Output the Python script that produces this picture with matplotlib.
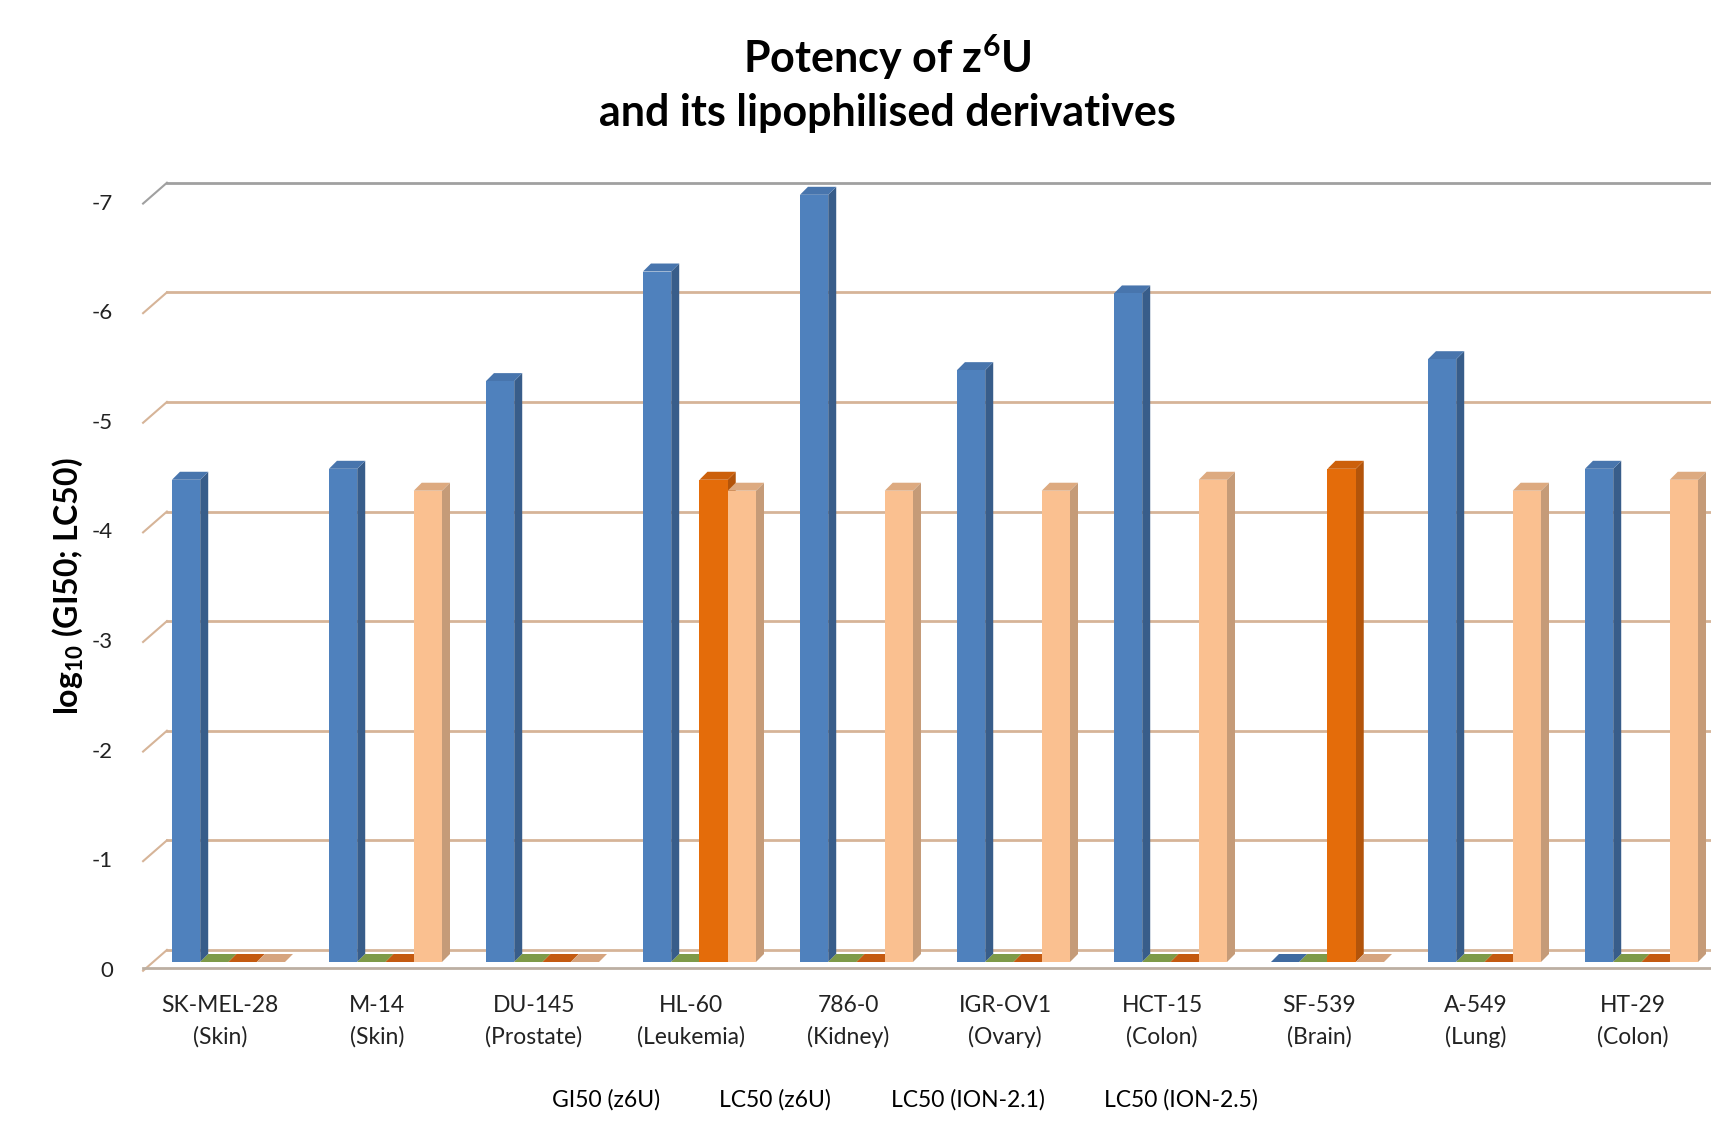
import numpy as np
import matplotlib.pyplot as plt
from matplotlib.patches import Polygon, Patch

plt.rcParams['font.family'] = ['Lato', 'DejaVu Sans']
plt.rcParams['mathtext.fontset'] = 'custom'
plt.rcParams['mathtext.rm'] = 'Lato:bold'
plt.rcParams['mathtext.it'] = 'Lato:bold:italic'
plt.rcParams['mathtext.bf'] = 'Lato:bold'

# ---- data ----
cell_lines = ['SK-MEL-28', 'M-14', 'DU-145', 'HL-60', '786-0',
              'IGR-OV1', 'HCT-15', 'SF-539', 'A-549', 'HT-29']
tissues = ['Skin', 'Skin', 'Prostate', 'Leukemia', 'Kidney',
           'Ovary', 'Colon', 'Brain', 'Lung', 'Colon']
series = ['GI50 (z6U)', 'LC50 (z6U)', 'LC50 (ION-2.1)', 'LC50 (ION-2.5)']
gi50_z6u = [-4.4, -4.5, -5.3, -6.3, -7.0, -5.4, -6.1, 0.0, -5.5, -4.5]
lc50_z6u = [0.0, 0.0, 0.0, 0.0, 0.0, 0.0, 0.0, 0.0, 0.0, 0.0]
lc50_ion21 = [0.0, 0.0, 0.0, -4.4, 0.0, 0.0, 0.0, -4.5, 0.0, 0.0]
lc50_ion25 = [0.0, -4.3, 0.0, -4.3, -4.3, -4.3, -4.4, 0.0, -4.3, -4.4]
yticks = [0, -1, -2, -3, -4, -5, -6, -7]

values = [gi50_z6u, lc50_z6u, lc50_ion21, lc50_ion25]
# front, side, top colours (Excel 2007 palette)
colours = [('#4F81BD', '#385D8A', '#4875AD'),
           ('#9BBB59', '#77933C', '#819E48'),
           ('#E46C0A', '#B3540A', '#CC600B'),
           ('#FAC090', '#C59B78', '#DDAA80')]
flat_colours = ['#3F6AA0', '#7E9A48', '#C45A10', '#D6A47E']

# ---- geometry (pixels of the original picture) ----
W, H = 1711, 1133
x0_px, dx_px = 220, 157        # first category centre, category spacing
y0_px, dy_px = 962, 109.6      # bar base, pixels per unit
fig = plt.figure(figsize=(W / 100, H / 100), dpi=100)
ax = fig.add_axes([0, 0, 1, 1])
ax.set_xlim(-x0_px / dx_px, (W - x0_px) / dx_px)
ax.set_ylim((H - y0_px) / dy_px, -y0_px / dy_px)
ax.axis('off')

x = np.arange(len(cell_lines))
bw = 0.18            # bar width
first = -0.306       # left edge of first bar relative to category
ddx, ddy = 8 / dx_px, 8 / dy_px   # 3d depth
back_off = 0.11
x_front, x_back = -0.49, -0.338
xmax = ax.get_xlim()[1]

# back wall gridlines and left stubs
for t in yticks:
    c = '#A0A0A0' if t == min(yticks) else '#D6B498'
    ax.plot([x_back, xmax], [t - back_off, t - back_off], color=c, lw=2, zorder=1)
    ax.plot([x_front, x_back], [t + 0.08, t - back_off], color=c, lw=1.5, zorder=1)
    ax.text(-0.68, t + 0.08, f'{t:g}', ha='right', va='center', fontsize=16, color='#222222')
ax.plot([x_front, xmax], [0.055, 0.055], color='#BCAFA2', lw=2, zorder=1)

# bars with simple 3d faces
z = 2
for k, (vals, (cf, cs, ct)) in enumerate(zip(values, colours)):
    for i, v in zip(x, vals):
        left = i + first + k * bw
        right = left + bw
        if v == 0:
            ax.add_patch(Polygon([(left, 0), (left + ddx, -ddy), (right + ddx, -ddy), (right, 0)],
                                 closed=True, facecolor=flat_colours[k], edgecolor='none', zorder=z))
            continue
        ax.add_patch(Polygon([(right, 0), (right + ddx, -ddy), (right + ddx, v - ddy), (right, v)],
                             closed=True, facecolor=cs, edgecolor='none', zorder=z))
        ax.add_patch(Polygon([(left, v), (left + ddx, v - ddy), (right + ddx, v - ddy), (right, v)],
                             closed=True, facecolor=ct, edgecolor='none', zorder=z))
        ax.bar(left, v, width=bw, align='edge', color=cf, edgecolor='none', zorder=z)
    z += 1

# category labels
for i, (name, tis) in zip(x, zip(cell_lines, tissues)):
    ax.text(i, 0.40, name, ha='center', va='center', fontsize=16.5, color='#222222')
    ax.text(i, 0.68, f'({tis})', ha='center', va='center', fontsize=16.5, color='#222222')

ax.text(-0.968, -3.43, r'log$_{10}$ (GI50; LC50)', rotation=90, ha='center', va='center',
        fontsize=23, fontweight='bold')

fig.text(887 / W, 1 - 57 / H, r'Potency of z$^{6}$U', ha='center', va='center',
         fontsize=31, fontweight='bold')
fig.text(887 / W, 1 - 113 / H, 'and its lipophilised derivatives', ha='center', va='center',
         fontsize=31, fontweight='bold')

handles = [Patch(facecolor='none', edgecolor='none') for _ in series]
fig.legend(handles, series, loc='center', bbox_to_anchor=(905 / W, 1 - 1100 / H), ncol=4,
           frameon=False, handlelength=0, handletextpad=0, columnspacing=2.6, fontsize=16.5)

fig.savefig('out.png', dpi=100)
